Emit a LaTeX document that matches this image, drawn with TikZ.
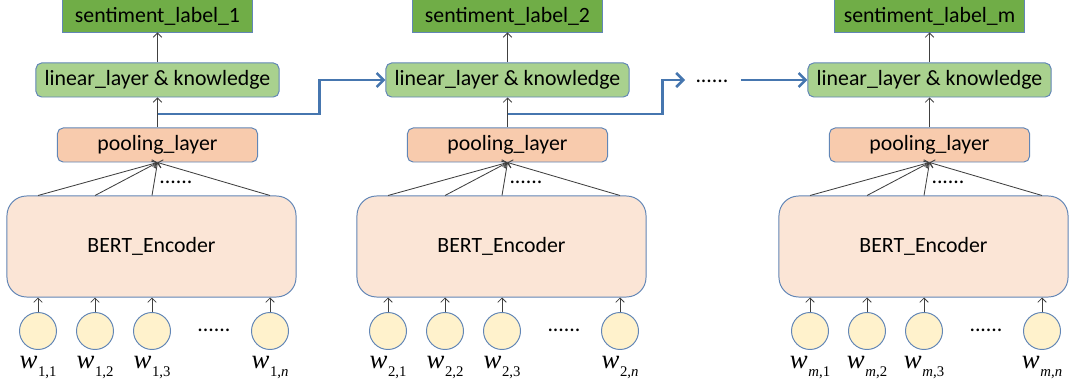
\documentclass[tikz,border=0pt]{standalone}
\usepackage{fontspec}
\setmainfont{Carlito}
\newfontfamily\wfont{Liberation Serif}
\usetikzlibrary{arrows.meta}
\definecolor{boxline}{RGB}{98,134,182}
\definecolor{labelgreen}{RGB}{112,173,71}
\definecolor{lingreen}{RGB}{169,209,142}
\definecolor{poolorange}{RGB}{248,203,173}
\definecolor{bertpeach}{RGB}{251,229,214}
\definecolor{wordyellow}{RGB}{255,242,204}
\definecolor{flowblue}{RGB}{70,118,175}
\definecolor{arrowgray}{RGB}{64,64,64}
\newcommand{\wsub}[1]{\textit{w}\kern0.5pt\raisebox{-6pt}{\fontsize{10.5}{11}\selectfont #1}}

\tikzset{
  box/.style={draw=boxline, line width=0.7pt, font=\fontsize{15.5}{18}\selectfont, inner sep=0pt},
  labelbox/.style={box, fill=labelgreen, minimum width=4.725cm, minimum height=0.8cm},
  linbox/.style={box, fill=lingreen, rounded corners=4pt, minimum width=6.075cm, minimum height=0.85cm},
  poolbox/.style={box, fill=poolorange, rounded corners=4pt, minimum width=5cm, minimum height=0.85cm},
  bertbox/.style={box, fill=bertpeach, rounded corners=14pt, minimum width=7.225cm, minimum height=2.525cm},
  word/.style={circle, draw=boxline, line width=0.7pt, fill=wordyellow, minimum size=0.925cm, inner sep=0pt},
  wlabel/.style={font=\wfont\fontsize{19}{20}\selectfont, inner sep=0pt},
  dots/.style={font=\fontsize{15.5}{18}\selectfont, inner sep=0pt},
  up/.style={draw=arrowgray, line width=0.6pt, -{Straight Barb[length=3pt,width=6pt]}},
  flow/.style={draw=flowblue, line width=1.8pt, -{Straight Barb[length=5pt,width=10pt]}}
}

\begin{document}
\begin{tikzpicture}[x=0.025cm, y=-0.025cm]
\useasboundingbox (0,0) rectangle (1070,385);
%
\foreach \b/\dx/\lab/\wl in {1/0/1/1, 2/350/2/2, 3/772/m/\textit{m}} {
  \node [labelbox] (label\b) at (157.5+\dx,16) {sentiment\_label\_\lab};
  \node [linbox] (lin\b) at (157.5+\dx,80) {linear\_layer \& knowledge};
  \node [poolbox] (pool\b) at (157.5+\dx,145) {pooling\_layer};
  \node [bertbox] (bert\b) at (151.5+\dx,246.5) {BERT\_Encoder};
  \node [dots, anchor=base] (topdots\b) at (176+\dx,184) {......};
  \node [dots, anchor=base] (botdots\b) at (214+\dx,332) {......};
  %
  \foreach \i/\cx/\sub in {1/38/1, 2/95/2, 3/152/3, 4/270/\textit{n}} {
    \node [word] (w\b-\i) at (\cx+\dx,331) {};
    \node [wlabel, anchor=base] (l\b-\i) at (\cx+\dx,368) {\wsub{\wl,\sub}};
    \draw [up] (w\b-\i) -- (w\b-\i |- bert\b.south);
    \draw [up] (w\b-\i |- bert\b.north) -- (pool\b.south);
  }
  %
  \draw [up] (pool\b.north) -- (lin\b.south);
  \draw [up] (lin\b.north) -- (label\b.south);
  \coordinate (split\b) at (157.5+\dx,114);
}
%
\node [dots, anchor=base] (middots) at (712,83) {......};
\coordinate (tip2) at (685,80);
\draw [flow] (split1) -- ++(162,0) |- (lin2.west);
\draw [flow] (split2) -- ++(155,0) |- (tip2);
\draw [flow] (middots.east |- lin3.west) ++(12,0) -- (lin3.west);
%
\end{tikzpicture}
\end{document}
